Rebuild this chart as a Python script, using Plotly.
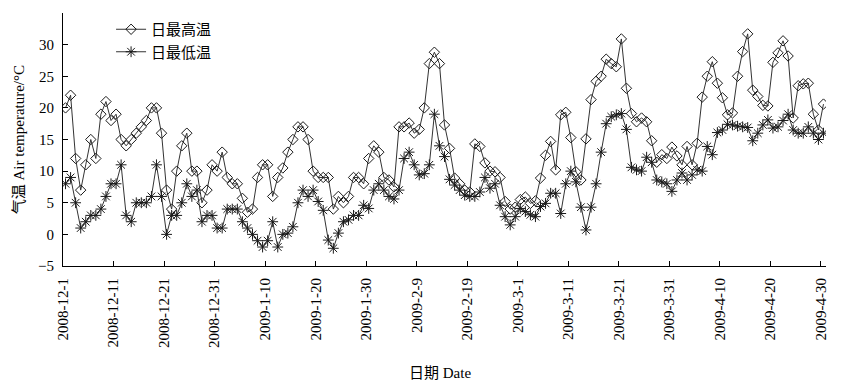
import plotly.graph_objects as go
import pandas as pd

# ---- data ----
dates = pd.date_range("2008-12-01", "2009-04-30", freq="D")
day_index = list(range(len(dates)))

tmax = [20, 22, 12, 7, 11, 15, 12, 19, 21, 18,
        19, 15, 14, 15, 16, 17, 18, 20, 20, 16,
        7, 4, 10, 14, 16, 10, 10, 5, 7, 11,
        10, 13, 9, 8, 8, 5.7, 3.5, 4, 9, 11,
        11, 6, 9, 10.5, 13, 15, 17, 17, 15, 10,
        9, 9, 9, 4, 6, 5, 6, 9, 9, 8,
        12, 14, 13, 9, 8.6, 7.5, 17, 17, 17.6, 16,
        16.6, 20, 27, 28.8, 27, 17.3, 13.6, 8.9, 8, 7,
        6.7, 14.3, 13.9, 11.3, 10, 9.9, 9, 5.2, 4, 4.3,
        5.5, 5.9, 4.9, 5.3, 8.9, 12.5, 14.7, 10.2, 18.9, 19.3,
        15.3, 9.9, 8.6, 15.1, 21.3, 24.2, 25, 27.7, 27, 26.5,
        30.9, 23.1, 19.1, 17.8, 18.4, 17.8, 14.8, 11.4, 12.6, 12,
        13.8, 12.4, 11, 13.9, 11, 14.4, 21.7, 25, 27.3, 23.9,
        21.6, 18.9, 19.2, 25, 28.9, 31.7, 22.8, 21.8, 20.4, 20.3,
        27.2, 28.7, 30.6, 28.2, 18.4, 23.5, 23.8, 23.9, 19, 16.5,
        20.6]

tmin = [8, 9, 5, 1, 2, 3, 3, 4, 6, 8,
        8, 11, 3, 2, 5, 5, 5, 6, 11, 6,
        0, 3, 3, 5, 8, 6, 7, 2, 3, 3,
        1, 1, 4, 4, 4, 2, 1, 0, -1, -2,
        -1, 2, -2, 0, 0.2, 1.2, 5, 7, 6, 7,
        5.2, 3.8, -0.9, -2.2, 0.2, 2, 2.3, 3, 3, 4.6,
        4.1, 7, 8, 7, 6, 5.6, 7, 12, 13, 11,
        9.4, 9.6, 11, 19, 14, 12.3, 8.7, 7.8, 7, 6.2,
        6, 6, 6.7, 9, 7.3, 8, 4.6, 2.8, 1.5, 2.8,
        4.1, 3.6, 3.1, 2.8, 4.4, 4.9, 6.5, 6.5, 3.3, 8,
        10, 8.3, 4.3, 0.7, 4.3, 8, 13, 17.5, 18.6, 18.9,
        19.1, 16.6, 10.6, 10.2, 10, 12.2, 11.4, 8.6, 8.3, 8,
        6.8, 8.6, 9.7, 8.6, 9.4, 10.2, 10, 13.9, 12.6, 16.1,
        16.5, 17.4, 17.3, 17.1, 17, 16.9, 14.8, 16, 17.3, 18.1,
        16.8, 17, 18, 19, 16.5, 16, 16, 17, 16, 15,
        16]

tick_labels = ["2008-12-1", "2008-12-11", "2008-12-21", "2008-12-31",
               "2009-1-10", "2009-1-20", "2009-1-30", "2009-2-9",
               "2009-2-19", "2009-3-1", "2009-3-11", "2009-3-21",
               "2009-3-31", "2009-4-10", "2009-4-20", "2009-4-30"]

series_names = ["日最高温", "日最低温"]

# ---- figure ----
FONT = "Liberation Serif, 'Times New Roman', 'Noto Sans CJK SC', serif"
hover_dates = [d.strftime("%Y-%m-%d") for d in dates]

fig = go.Figure()
fig.add_trace(go.Scatter(
    x=day_index, y=tmax, name=series_names[0], mode="lines+markers",
    customdata=hover_dates, hovertemplate="%{customdata}: %{y}°C",
    line=dict(color="#333333", width=1),
    marker=dict(symbol="diamond-open", size=8, color="#1a1a1a",
                line=dict(width=1, color="#1a1a1a")),
))
fig.add_trace(go.Scatter(
    x=day_index, y=tmin, name=series_names[1], mode="lines+markers",
    customdata=hover_dates, hovertemplate="%{customdata}: %{y}°C",
    line=dict(color="#333333", width=1),
    marker=dict(symbol="asterisk-open", size=9, color="#1a1a1a",
                line=dict(width=1, color="#1a1a1a")),
))

tick_pos = [i * 10 - 0.5 for i in range(len(tick_labels))]

# the page body adds an 8px offset, so the figure is sized 840x375
fig.update_layout(
    width=840, height=375,
    margin=dict(l=54.5, r=21.5, t=5.3, b=117, autoexpand=False),
    paper_bgcolor="white", plot_bgcolor="white",
    font=dict(family=FONT, size=15, color="black"),
    showlegend=True,
    legend=dict(x=0.063, y=1.0, xanchor="left", yanchor="top",
                bgcolor="rgba(0,0,0,0)",
                font=dict(size=15, family="'Noto Sans CJK SC', sans-serif"),
                tracegroupgap=2, itemwidth=30),
    xaxis=dict(range=[-0.5, 150.5], tickmode="array", tickvals=tick_pos,
               ticktext=tick_labels, tickangle=-90, ticks="inside", ticklen=5,
               tickcolor="black", showline=True, linecolor="black", linewidth=1,
               showgrid=False, zeroline=False, tickfont=dict(size=15),
               ticklabelstandoff=5, automargin=False),
    yaxis=dict(range=[-5, 35], dtick=5, tick0=-5, ticks="inside", ticklen=5,
               tickcolor="black", showline=True, linecolor="black", linewidth=1,
               showgrid=False, zeroline=False, tickfont=dict(size=15),
               ticklabelstandoff=5, automargin=False),
    annotations=[
        dict(text="气温 Air temperature/°C", xref="paper", yref="paper",
             x=-0.058, y=0.5, xanchor="center", yanchor="middle",
             textangle=-90, showarrow=False, font=dict(size=15)),
        dict(text="日期 Date", xref="paper", yref="paper",
             x=0.494, y=-0.423, xanchor="center", yanchor="middle",
             showarrow=False, font=dict(size=15)),
    ],
)

fig.write_html("out.html")
